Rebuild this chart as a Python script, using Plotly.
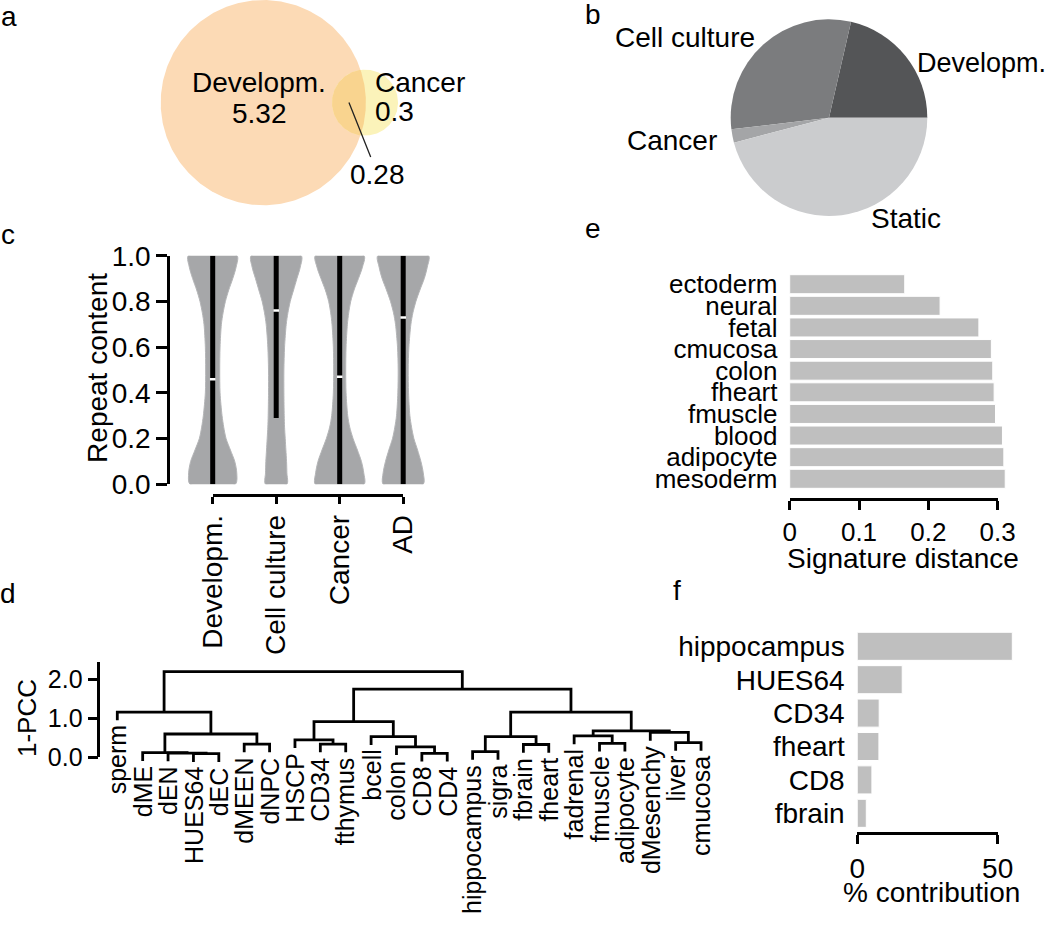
import numpy as np
import plotly.graph_objects as go

W, H = 1050, 929
FONT = "Liberation Sans, Arial, Helvetica, sans-serif"

# ---------------- data ----------------
venn_labels = ["Developm.", "Cancer"]
venn_unique = [5.32, 0.3]
venn_shared = 0.28

pie_labels = ["Developm.", "Cell culture", "Cancer", "Static"]
pie_values = [21.4, 30.5, 2.2, 45.9]
pie_colors = ["#545557", "#7B7C7E", "#A4A5A7", "#CBCCCE"]

violin_cats = ["Developm.", "Cell culture", "Cancer", "AD"]
violin_levels = [0.0, 0.05, 0.1, 0.15, 0.2, 0.25, 0.3, 0.4, 0.5, 0.6, 0.7, 0.75, 0.8, 0.85, 0.9, 0.95, 1.0]
dens_develop = [68, 72, 66, 53, 40, 33, 28, 22, 21, 22, 26, 31, 38, 48, 60, 70, 73]
dens_cellcult = [32, 32, 31, 29, 27, 25, 24, 23, 23, 25, 30, 35, 42, 52, 62, 72, 75]
dens_cancer = [73, 72, 65, 53, 40, 30, 24, 19, 18, 19, 23, 27, 33, 43, 56, 68, 73]
dens_ad = [60, 60, 53, 43, 32, 25, 20, 16, 15, 17, 23, 29, 38, 50, 63, 72, 76]
violin_q1 = [0.0, 0.29, 0.0, 0.0]
violin_q3 = [1.0, 1.0, 1.0, 1.0]
violin_median = [0.46, 0.76, 0.47, 0.73]

dendro_leaves = ["sperm", "dME", "dEN", "HUES64", "dEC", "dMEEN", "dNPC", "HSCP",
                 "CD34", "fthymus", "bcell", "colon", "CD8", "CD4", "hippocampus",
                 "sigra", "fbrain", "fheart", "fadrenal", "fmuscle", "adipocyte",
                 "dMesenchy", "liver", "cmucosa"]
# R-style merge table: negative = leaf (1-based), positive = earlier merge (1-based)
dendro_a = [-4, -3, -2, -13, -15, -12, -6, -9, -17, -20, -23, -8, -11, 5, -19, 3, -22, 15, 12, -1, 14, 19, 20]
dendro_b = [-5, 1, 2, -14, -16, 4, -7, -10, -18, -21, -24, 8, 6, 9, 10, 7, 11, 17, 13, 16, 18, 21, 22]
dendro_h = [0.085, 0.10, 0.11, 0.095, 0.14, 0.26, 0.33, 0.33, 0.32, 0.35, 0.37, 0.44,
            0.52, 0.52, 0.54, 0.59, 0.63, 0.67, 0.905, 1.15, 1.15, 1.74, 2.19]

sig_cats = ["ectoderm", "neural", "fetal", "cmucosa", "colon", "fheart", "fmuscle",
            "blood", "adipocyte", "mesoderm"]
sig_vals = [0.166, 0.217, 0.273, 0.291, 0.293, 0.295, 0.297, 0.307, 0.309, 0.311]

contrib_cats = ["hippocampus", "HUES64", "CD34", "fheart", "CD8", "fbrain"]
contrib_vals = [55.2, 16.0, 7.8, 7.7, 5.2, 3.2]


# ---------------- helpers ----------------
def px_x(p):
    return p / W


def px_y(p):
    return 1 - p / H


def ydom(top, bottom):
    return [px_y(bottom), px_y(top)]


def xdom(left, right):
    return [px_x(left), px_x(right)]


def ann(text, x, y, size=28, xanchor="center", yanchor="middle", angle=0):
    return dict(text=text, x=px_x(x), y=px_y(y), xref="paper", yref="paper",
                showarrow=False, xanchor=xanchor, yanchor=yanchor, textangle=angle,
                font=dict(family=FONT, size=size, color="black"))


hidden = dict(visible=False, showgrid=False, zeroline=False)
axis_style = dict(showgrid=False, zeroline=False, showline=True, linecolor="black",
                  linewidth=2.5, ticks="outside", tickcolor="black", tickwidth=2.5)


def dummy(xa, ya):
    return go.Scatter(x=[None], y=[None], xaxis=xa, yaxis=ya, mode="markers",
                      showlegend=False, hoverinfo="skip")


fig = go.Figure()
annotations = []

# ---------------- panel a: Venn ----------------
r1 = np.sqrt((venn_unique[0] + venn_shared) / np.pi)
r2 = np.sqrt((venn_unique[1] + venn_shared) / np.pi)


def lens_area(d):
    if d >= r1 + r2:
        return 0.0
    if d <= abs(r1 - r2):
        return np.pi * min(r1, r2) ** 2
    a = r1 ** 2 * np.arccos((d * d + r1 * r1 - r2 * r2) / (2 * d * r1))
    b = r2 ** 2 * np.arccos((d * d + r2 * r2 - r1 * r1) / (2 * d * r2))
    c = 0.5 * np.sqrt((-d + r1 + r2) * (d + r1 - r2) * (d - r1 + r2) * (d + r1 + r2))
    return a + b - c


lo, hi = abs(r1 - r2), r1 + r2
for _ in range(80):
    mid = 0.5 * (lo + hi)
    if lens_area(mid) > venn_shared:
        lo = mid
    else:
        hi = mid
dist = 0.5 * (lo + hi)

t = np.linspace(0, 2 * np.pi, 361)
fig.add_trace(go.Scatter(x=r1 * np.cos(t), y=r1 * np.sin(t), fill="toself",
                         fillcolor="#FCDAB5", line=dict(width=0), mode="lines",
                         xaxis="x", yaxis="y", hoverinfo="skip", showlegend=False))
fig.add_trace(go.Scatter(x=dist + r2 * np.cos(t), y=r2 * np.sin(t), fill="toself",
                         fillcolor="#FBF3BA", line=dict(width=0), mode="lines",
                         xaxis="x", yaxis="y", hoverinfo="skip", showlegend=False))
x0 = (dist ** 2 + r1 ** 2 - r2 ** 2) / (2 * dist)
y0 = np.sqrt(r1 ** 2 - x0 ** 2)
a1 = np.arctan2(y0, x0)
a2 = np.arctan2(y0, dist - x0)
ta = np.linspace(-a1, a1, 80)
tb = np.linspace(np.pi - a2, np.pi + a2, 80)
fig.add_trace(go.Scatter(x=np.concatenate([r1 * np.cos(ta), dist + r2 * np.cos(tb)]),
                         y=np.concatenate([r1 * np.sin(ta), r2 * np.sin(tb)]),
                         fill="toself", fillcolor="#F9D48F", line=dict(width=0),
                         mode="lines", xaxis="x", yaxis="y", hoverinfo="skip",
                         showlegend=False))

K = 102.6 / r1            # px per data unit
CX, CY = 263.3, 102.6     # pixel centre of the big circle
VX0, VX1, VY0, VY1 = 130, 520, 0, 215
venn_x = dict(hidden, domain=xdom(VX0, VX1), range=[(VX0 - CX) / K, (VX1 - CX) / K])
venn_y = dict(hidden, domain=ydom(VY0, VY1), range=[-(VY1 - CY) / K, (CY - VY0) / K])

annotations += [
    ann(venn_labels[0], 259, 82),
    ann(f"{venn_unique[0]}", 259, 113),
    ann(venn_labels[1], 373, 82.5, xanchor="left"),
    ann(f"{venn_unique[1]}", 373, 111.7, xanchor="left"),
]
lens_mid = 0.5 * (r1 + dist - r2)
tip_px = CX + lens_mid * K
annotations.append(dict(text=f"{venn_shared}", x=lens_mid, y=0, xref="x", yref="y",
                        showarrow=True, arrowhead=0, arrowwidth=1.3, arrowcolor="#222",
                        ax=377.5 - tip_px, ay=174 - CY, standoff=0,
                        font=dict(family=FONT, size=28, color="black")))

# ---------------- panel b: pie ----------------
# plotly's counter-clockwise pies end the first slice at `rotation`, so shift the
# start so that the first slice begins at 3 o'clock
first_deg = 360.0 * pie_values[0] / sum(pie_values)
fig.add_trace(go.Pie(labels=pie_labels, values=pie_values, sort=False,
                     direction="counterclockwise", rotation=90 - first_deg,
                     marker=dict(colors=pie_colors, line=dict(width=0)),
                     textinfo="none", hoverinfo="skip", showlegend=False,
                     domain=dict(x=xdom(730.7, 927.3), y=ydom(19.3, 216))))
annotations += [
    ann(pie_labels[1], 685, 37.5),
    ann(pie_labels[0], 1048, 62.5, size=27, xanchor="right"),
    ann(pie_labels[2], 671.7, 140.8),
    ann(pie_labels[3], 905.8, 219),
]

# ---------------- panel c: violins ----------------
VC0, VSP = 212.7, 63.5      # px of first category, px per category
VL, VR = 170, 445
dens_all = [dens_develop, dens_cellcult, dens_cancer, dens_ad]
dmax = max(max(dd) for dd in dens_all)
HALF = 0.4                  # max half-width in category units
lev = np.array(violin_levels)
for i, dd in enumerate(dens_all):
    hw = HALF * np.array(dd) / dmax
    xs = np.concatenate([i + hw, (i - hw)[::-1], [i + hw[0]]])
    ys = np.concatenate([lev, lev[::-1], [lev[0]]])
    fig.add_trace(go.Scatter(x=xs, y=ys, fill="toself", fillcolor="#A6A7A9",
                             line=dict(color="#B4B5B7", width=1, shape="spline", smoothing=0.8),
                             mode="lines", xaxis="x2", yaxis="y2", hoverinfo="skip",
                             showlegend=False))
    fig.add_trace(go.Scatter(x=[i, i], y=[violin_q1[i], violin_q3[i]], mode="lines",
                             line=dict(color="black", width=5), xaxis="x2", yaxis="y2",
                             hoverinfo="skip", showlegend=False))
    fig.add_trace(go.Scatter(x=[i], y=[violin_median[i]], mode="markers",
                             marker=dict(symbol="line-ew", size=4,
                                         line=dict(color="white", width=2.5)),
                             xaxis="x2", yaxis="y2", hoverinfo="skip", showlegend=False))
fig.add_trace(dummy("x3", "y2"))

violin_x = dict(hidden, domain=xdom(VL, VR), range=[(VL - VC0) / VSP, (VR - VC0) / VSP])
violin_y = dict(axis_style, domain=ydom(255.7, 484.3), range=[0, 1], anchor="x2",
                tickvals=[0, 0.2, 0.4, 0.6, 0.8, 1.0], tickformat=".1f", ticklen=11,
                tickfont=dict(family=FONT, size=28, color="black"))
violin_cat = dict(axis_style, domain=xdom(VC0, VC0 + 3 * VSP), range=[0, 3],
                  anchor="free", position=px_y(495), tickvals=[0, 1, 2, 3],
                  ticktext=violin_cats, tickangle=-90, ticklen=7,
                  tickfont=dict(family=FONT, size=28, color="black"))
annotations.append(ann("Repeat content", 97.3, 367.6, angle=-90))

# ---------------- panel d: dendrogram ----------------
DX0, DSP = 117.3, 25.38     # px of first leaf, px per leaf
DY0, DYS = 757.0, 39.0      # px of height 0, px per unit height
DL, DR, DT, DB = 98.3, 730, 640, 800
hang = 0.1 * (max(dendro_h) - min(dendro_h))
node_x, leaf_end = {}, {}
sx, sy = [], []
for k, (a, b, h) in enumerate(zip(dendro_a, dendro_b, dendro_h), start=1):
    pts = []
    for c in (a, b):
        if c < 0:
            li = -c - 1
            leaf_end[li] = h - hang
            pts.append((li, h - hang))
        else:
            pts.append((node_x[c], dendro_h[c - 1]))
    (xa, ya), (xb, yb) = pts
    sx += [xa, xa, xb, xb, None]
    sy += [ya, h, h, yb, None]
    node_x[k] = 0.5 * (xa + xb)
fig.add_trace(go.Scatter(x=sx, y=sy, mode="lines", line=dict(color="black", width=2.8),
                         xaxis="x4", yaxis="y4", hoverinfo="skip", showlegend=False))
fig.add_trace(dummy("x4", "y5"))
for li, name in enumerate(dendro_leaves):
    annotations.append(dict(text=name, x=li, y=leaf_end[li] - 0.08, xref="x4", yref="y4",
                            showarrow=False, textangle=-90, xanchor="center", yanchor="top",
                            font=dict(family=FONT, size=25, color="black")))
dendro_x = dict(hidden, domain=xdom(DL, DR), range=[(DL - DX0) / DSP, (DR - DX0) / DSP])
dendro_y = dict(hidden, domain=ydom(DT, DB), range=[(DY0 - DB) / DYS, (DY0 - DT) / DYS],
                anchor="x4")
dendro_disp = dict(axis_style, domain=ydom(662.3, DY0), range=[0, (DY0 - 662.3) / DYS],
                   anchor="free", position=px_x(DL), tickvals=[0, 1, 2], tickformat=".1f",
                   ticklen=10, tickfont=dict(family=FONT, size=25, color="black"))
annotations.append(ann("1-PCC", 27, 718, size=26, angle=-90))

# ---------------- panel e: signature distance ----------------
E0, EU = 789.7, 693.0       # px of 0, px per unit
ER = 1045
fig.add_trace(go.Bar(x=sig_vals, y=sig_cats, orientation="h", width=0.88,
                     marker=dict(color="#BFBFBF", line=dict(color="white", width=1)),
                     xaxis="x6", yaxis="y6", hoverinfo="skip", showlegend=False))
fig.add_trace(dummy("x7", "y6"))
sig_x = dict(hidden, domain=xdom(E0, ER), range=[0, (ER - E0) / EU])
sig_y = dict(showgrid=False, zeroline=False, showline=False, type="category",
             categoryorder="array", categoryarray=sig_cats, range=[9.5, -0.5],
             tickmode="array", tickvals=sig_cats, ticktext=sig_cats,
             domain=ydom(273.4, 489.6), anchor="x6", ticks="outside", ticklen=6,
             tickcolor="rgba(0,0,0,0)", tickfont=dict(family=FONT, size=26, color="black"))
sig_disp = dict(axis_style, domain=xdom(E0, E0 + 0.3 * EU), range=[0, 0.3], anchor="free",
                position=px_y(499.3), tickvals=[0, 0.1, 0.2, 0.3],
                ticktext=["0", "0.1", "0.2", "0.3"], ticklen=9,
                tickfont=dict(family=FONT, size=26, color="black"))
annotations.append(ann("Signature distance", 903.3, 558.5))

# ---------------- panel f: % contribution ----------------
F0, FU = 857.3, 2.808
FR = 1045
fig.add_trace(go.Bar(x=contrib_vals, y=contrib_cats, orientation="h", width=0.84,
                     marker=dict(color="#BFBFBF", line=dict(color="white", width=1)),
                     xaxis="x8", yaxis="y8", hoverinfo="skip", showlegend=False))
fig.add_trace(dummy("x9", "y8"))
con_x = dict(hidden, domain=xdom(F0, FR), range=[0, (FR - F0) / FU])
con_y = dict(showgrid=False, zeroline=False, showline=False, type="category",
             categoryorder="array", categoryarray=contrib_cats, range=[5.5, -0.5],
             tickmode="array", tickvals=contrib_cats, ticktext=contrib_cats,
             domain=ydom(629.6, 830), anchor="x8", ticks="outside", ticklen=6,
             tickcolor="rgba(0,0,0,0)", tickfont=dict(family=FONT, size=28, color="black"))
con_disp = dict(axis_style, domain=xdom(F0, F0 + 50 * FU), range=[0, 50], anchor="free",
                position=px_y(833.3), tickvals=[0, 50], ticklen=9,
                tickfont=dict(family=FONT, size=28, color="black"))
annotations.append(ann("% contribution", 931, 892.5))

# ---------------- panel letters ----------------
annotations += [
    ann("a", 9, 17), ann("b", 593, 15), ann("c", 8, 234),
    ann("d", 7.5, 593), ann("e", 593, 228), ann("f", 676.7, 590),
]

fig.update_layout(
    width=W, height=H, margin=dict(l=0, r=0, t=0, b=0), template="none",
    paper_bgcolor="white", plot_bgcolor="rgba(0,0,0,0)", showlegend=False,
    hovermode=False, font=dict(family=FONT, color="black"),
    xaxis=venn_x, yaxis=venn_y,
    xaxis2=violin_x, yaxis2=violin_y, xaxis3=violin_cat,
    xaxis4=dendro_x, yaxis4=dendro_y, yaxis5=dendro_disp,
    xaxis6=sig_x, yaxis6=sig_y, xaxis7=sig_disp,
    xaxis8=con_x, yaxis8=con_y, xaxis9=con_disp,
    annotations=annotations,
)

fig.write_html("out.html", config={"displayModeBar": False},
               post_script="document.body.style.margin='0px';")
